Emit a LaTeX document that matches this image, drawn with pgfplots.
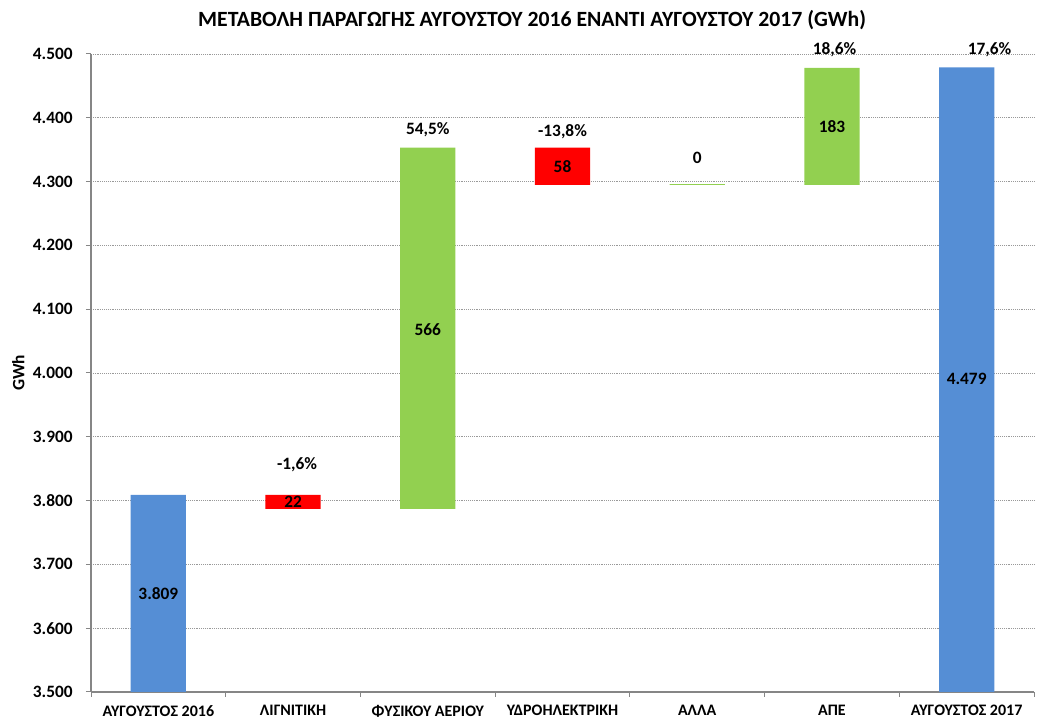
\documentclass[border=0pt]{standalone}
\usepackage{pgfplots}
\pgfplotsset{compat=1.18}
\usepackage{fontspec}
\setmainfont{Carlito}
\definecolor{cblue}{HTML}{558ED5}
\definecolor{cgreen}{HTML}{92D050}
\definecolor{cred}{HTML}{FF0000}
\definecolor{axgray}{HTML}{868686}
\begin{document}
\begin{tikzpicture}
\begin{axis}[
  at={(0pt,0pt)}, anchor=south west,
  scale only axis, width=707.25pt, height=478.5pt,
  ybar stacked, bar width=0.41,
  xmin=-0.5, xmax=6.5, ymin=3500, ymax=4500,
  xtick={0,1,2,3,4,5,6},
  xticklabels={ΑΥΓΟΥΣΤΟΣ 2016,ΛΙΓΝΙΤΙΚΗ,ΦΥΣΙΚΟΥ ΑΕΡΙΟΥ,ΥΔΡΟΗΛΕΚΤΡΙΚΗ,ΑΛΛΑ,ΑΠΕ,ΑΥΓΟΥΣΤΟΣ 2017},
  minor xtick={-0.5,0.5,1.5,2.5,3.5,4.5,5.5,6.5},
  ytick={3500,3600,3700,3800,3900,4000,4100,4200,4300,4400,4500},
  yticklabels={3.500,3.600,3.700,3.800,3.900,4.000,4.100,4.200,4.300,4.400,4.500},
  axis x line*=bottom, axis y line*=left,
  axis line style={axgray, line width=1.5pt},
  tick align=outside,
  major tick length=3.75pt, minor tick length=3.75pt,
  major x tick style={draw=none},
  minor x tick style={axgray, line width=0.75pt},
  major y tick style={axgray, line width=0.75pt},
  ymajorgrids,
  major grid style={densely dotted, gray!80, line width=0.6pt},
  xticklabel style={font=\bfseries\fontsize{12}{13}\selectfont, yshift=-2.6pt},
  yticklabel style={font=\bfseries\fontsize{13}{14}\selectfont, xshift=-6.5pt},
  every axis plot/.append style={draw=none},
]
% invisible base
\addplot[fill=none, draw=none] coordinates {(0,0) (1,3787) (2,3787) (3,4295) (4,4295) (5,4295) (6,0)};
% totals
\addplot[fill=cblue] coordinates {(0,3809) (1,0) (2,0) (3,0) (4,0) (5,0) (6,4479)};
% decreases
\addplot[fill=cred] coordinates {(0,0) (1,22) (2,0) (3,58) (4,0) (5,0) (6,0)};
% increases
\addplot[fill=cgreen] coordinates {(0,0) (1,0) (2,566) (3,0) (4,1) (5,183) (6,0)};

\coordinate (l0) at (axis cs:0,3655);
\coordinate (p1) at (axis cs:1.03,3856);
\coordinate (l1) at (axis cs:1,3798);
\coordinate (p2) at (axis cs:2,4381);
\coordinate (l2) at (axis cs:2,4068);
\coordinate (p3) at (axis cs:3,4379);
\coordinate (l3) at (axis cs:3,4323);
\coordinate (p4) at (axis cs:4,4337);
\coordinate (p5) at (axis cs:5.02,4506);
\coordinate (l5) at (axis cs:5,4386);
\coordinate (p6) at (axis cs:6.17,4506);
\coordinate (l6) at (axis cs:6,3990);
\coordinate (yl) at (rel axis cs:0,0.5);
\coordinate (tt) at (rel axis cs:0.4677,1);
\end{axis}
\begin{scope}[every node/.style={font=\bfseries\fontsize{13}{14}\selectfont}]
\node at (l0) {3.809};
\node at (p1) {-1,6\%};
\node at (l1) {22};
\node at (p2) {54,5\%};
\node at (l2) {566};
\node at (p3) {-13,8\%};
\node at (l3) {58};
\node at (p4) {0};
\node at (p5) {18,6\%};
\node at (l5) {183};
\node at (p6) {17,6\%};
\node at (l6) {4.479};
\node[rotate=90] at ([xshift=-54.4pt]yl) {GWh};
\end{scope}
\node[font=\bfseries\fontsize{16.3}{17}\selectfont] at ([yshift=25.5pt]tt) {ΜΕΤΑΒΟΛΗ ΠΑΡΑΓΩΓΗΣ ΑΥΓΟΥΣΤΟΥ 2016 ΕΝΑΝΤΙ ΑΥΓΟΥΣΤΟΥ 2017 (GWh)};
\pgfresetboundingbox
\path[use as bounding box] (-68.25pt,-21pt) rectangle (709.5pt,519pt);
\end{tikzpicture}
\end{document}
